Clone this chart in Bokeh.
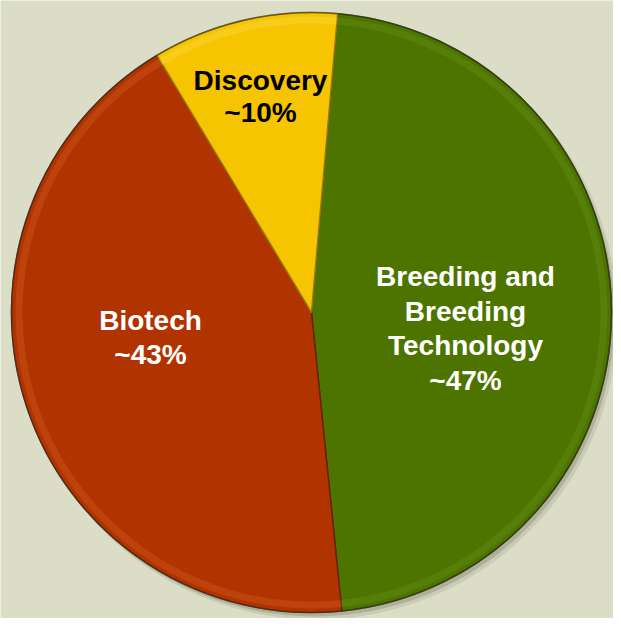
import numpy as np
from bokeh.plotting import figure
from bokeh.models import Range1d, ColumnDataSource
from bokeh.embed import file_html
from bokeh.resources import INLINE
from bokeh.core.properties import value

# ---- data ----
categories = ["Breeding and Breeding Technology", "Biotech", "Discovery"]
shares = [47, 43, 10]
label_lines = [
    ["Breeding and", "Breeding", "Technology", "~47%"],
    ["Biotech", "~43%"],
    ["Discovery", "~10%"],
]
colors = ["#4e7400", "#b13400", "#f6c400"]
rim_colors = ["#6f9a1c", "#e0682c", "#ffe45a"]
edge_colors = ["#2c4600", "#6e2000", "#9c7a00"]
text_colors = ["#ffffff", "#ffffff", "#000000"]

# ---- layout ----
W, H = 613, 618
BG = "#dcddc6"
cx, cy, R = 311, 306, 300
start_deg = 85.0
label_offsets = [(154, -16), (-161, -25), (-51, 216)]
line_gap = [34.5, 34.5, 32]

p = figure(width=W, height=H, x_range=Range1d(0, W), y_range=Range1d(0, H),
           output_backend="svg", toolbar_location=None, min_border=0)
p.axis.visible = False
p.grid.visible = False
p.outline_line_color = None
p.background_fill_color = BG
p.border_fill_color = BG

frac = np.array(shares, dtype=float) / np.sum(shares)
cum = np.concatenate([[0.0], np.cumsum(frac)])
starts = np.radians(start_deg) - cum[:-1] * 2 * np.pi
ends = np.radians(start_deg) - cum[1:] * 2 * np.pi

# soft shadow
p.circle(x=[cx + 5], y=[cy - 6], radius=R + 1, fill_color="#a9aa93", fill_alpha=0.35, line_color=None)
p.circle(x=[cx + 3], y=[cy - 4], radius=R, fill_color="#8f907a", fill_alpha=0.45, line_color=None)

src = ColumnDataSource(dict(cat=categories, start=starts, end=ends, color=colors,
                            rim=rim_colors, edge=edge_colors))
p.wedge(x=cx, y=cy, radius=R, start_angle="start", end_angle="end", direction="clock",
        fill_color="color", line_color="edge", line_width=1.5, source=src)
# bevel highlight near the rim
p.annular_wedge(x=cx, y=cy, inner_radius=R - 11, outer_radius=R - 4,
                start_angle="start", end_angle="end", direction="clock",
                fill_color="rim", fill_alpha=0.28, line_color=None, source=src)
p.circle(x=[cx], y=[cy], radius=R, fill_color=None, line_color="#3a3a2a", line_alpha=0.55, line_width=1.5)

# labels
xs, ys, ts, tc = [], [], [], []
for lines, (dx, dy), gap, col in zip(label_lines, label_offsets, line_gap, text_colors):
    n = len(lines)
    for i, t in enumerate(lines):
        xs.append(cx + dx)
        ys.append(cy + dy + ((n - 1) / 2 - i) * gap)
        ts.append(t)
        tc.append(col)
p.text(x=xs, y=ys, text=ts, text_color=tc, text_align="center", text_baseline="middle",
       text_font=value("Liberation Sans"), text_font_style="bold", text_font_size="28px")

open("out.html", "w").write(file_html(p, INLINE))
